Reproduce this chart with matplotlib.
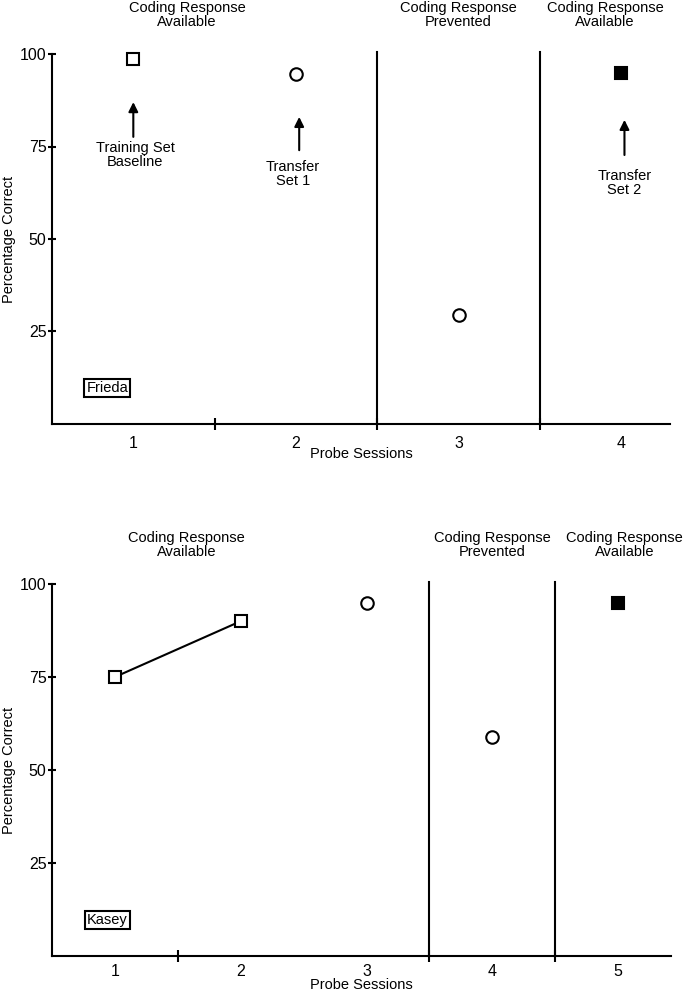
import numpy as np
import matplotlib
matplotlib.use("Agg")
import matplotlib.pyplot as plt

plt.rcParams['font.family'] = ['Liberation Sans', 'DejaVu Sans']

# Frieda (top panel)
frieda_open_sq_x = [1]
frieda_open_sq_y = [98.6]
frieda_circle_x = [2, 3]
frieda_circle_y = [94.6, 29.5]
frieda_filled_x = [4]
frieda_filled_y = [95]
frieda_phase_lines = [2.5, 3.5]
frieda_xticklabels = ['1', '2', '3', '4']
frieda_headers = [(1.33, "Coding Response\nAvailable"),
                  (3.0, "Coding Response\nPrevented"),
                  (3.9, "Coding Response\nAvailable")]
frieda_notes = [("Training Set\nBaseline", 1.01, 72.7, 1.0, 77.6, 87.0),
                ("Transfer\nSet 1", 1.98, 67.6, 2.02, 74.0, 83.0),
                ("Transfer\nSet 2", 4.02, 65.1, 4.02, 72.7, 82.2)]

# Kasey (bottom panel)
kasey_open_sq_x = [1, 2]
kasey_open_sq_y = [75, 90]
kasey_circle_x = [3, 4]
kasey_circle_y = [95, 59]
kasey_filled_x = [5]
kasey_filled_y = [95]
kasey_phase_lines = [3.5, 4.5]
kasey_xticklabels = ['1', '2', '3', '4', '5']
kasey_headers = [(1.57, "Coding Response\nAvailable"),
                 (4.0, "Coding Response\nPrevented"),
                 (5.05, "Coding Response\nAvailable")]

LW = 1.5
FS = 10.5

fig = plt.figure(figsize=(6.83, 9.93), dpi=100)
ax0 = fig.add_axes([52/683, 1-424/993, 618/683, 370/993])
ax1 = fig.add_axes([52/683, 1-956/993, 619/683, 372/993])


def setup(ax, xmax, n, phase_lines, labels, headers, name, namex, tpad, xlpad):
    ax.set_xlim(0.5, xmax)
    ax.set_ylim(0, 100)
    for s in ['top', 'right']:
        ax.spines[s].set_visible(False)
    for s in ['left', 'bottom']:
        ax.spines[s].set_linewidth(LW)
    ax.set_yticks([25, 50, 75, 100])
    ax.tick_params(axis='y', direction='inout', length=6, width=LW, labelsize=11.5, pad=1)
    ax.set_xticks([1.5] + phase_lines)
    ax.set_xticklabels([])
    ax.tick_params(axis='x', direction='inout', length=8, width=LW)
    ax.set_xticks(np.arange(1, n + 1), minor=True)
    ax.set_xticklabels(labels, minor=True, fontsize=11.5)
    ax.tick_params(axis='x', which='minor', length=0, pad=tpad)
    for xl in phase_lines:
        ax.plot([xl, xl], [0, 100.5], color='black', lw=LW, clip_on=False)
    ax.set_ylabel("Percentage Correct", fontsize=FS, labelpad=3)
    ax.set_xlabel("Probe Sessions", fontsize=FS, labelpad=xlpad)
    for hx, txt in headers:
        ax.text(hx, 110.5, txt, ha='center', va='center', fontsize=FS,
                linespacing=1.0, clip_on=False)
    ax.text(namex, 9.7, name, ha='center', va='center', fontsize=FS,
            bbox=dict(boxstyle='square,pad=0.15', fc='white', ec='black', lw=LW))


setup(ax0, 4.3, 4, frieda_phase_lines, frieda_xticklabels, frieda_headers, "Frieda", 0.84, 9, -3)
setup(ax1, 5.42, 5, kasey_phase_lines, kasey_xticklabels, kasey_headers, "Kasey", 0.94, 6, -1)

mk = dict(markersize=9, markeredgewidth=LW, markeredgecolor='black', color='black',
          clip_on=False)
ax0.plot(frieda_open_sq_x, frieda_open_sq_y, 's', markerfacecolor='white', **mk)
ax0.plot(frieda_circle_x, frieda_circle_y, 'o', markerfacecolor='white', linestyle='none', **mk)
ax0.plot(frieda_filled_x, frieda_filled_y, 's', markerfacecolor='black', **mk)

for txt, tx, ty, axx, y0, y1 in frieda_notes:
    ax0.text(tx, ty, txt, ha='center', va='center', fontsize=FS, linespacing=1.0)
    ax0.annotate("", xy=(axx, y1), xytext=(axx, y0),
                 arrowprops=dict(arrowstyle='-|>', lw=LW, color='black',
                                 mutation_scale=14, shrinkA=0, shrinkB=0))

ax1.plot(kasey_open_sq_x, kasey_open_sq_y, 's-', markerfacecolor='white', lw=LW, **mk)
ax1.plot(kasey_circle_x, kasey_circle_y, 'o', markerfacecolor='white', linestyle='none', **mk)
ax1.plot(kasey_filled_x, kasey_filled_y, 's', markerfacecolor='black', **mk)

fig.savefig("out.png", dpi=100)
